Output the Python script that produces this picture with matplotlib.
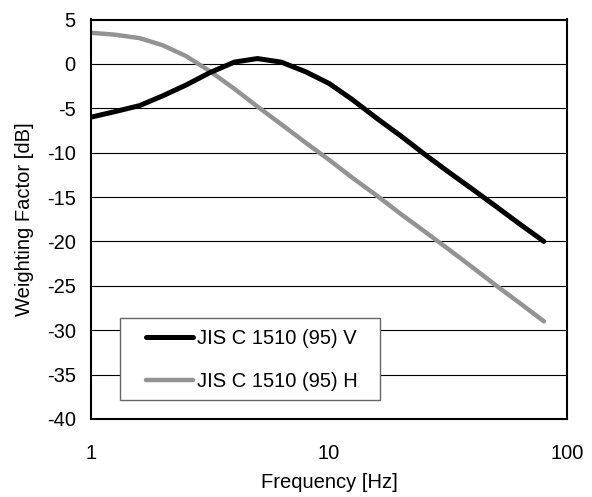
import matplotlib
matplotlib.use("Agg")
import matplotlib.pyplot as plt
from matplotlib.patches import Rectangle
from matplotlib.ticker import FixedLocator, NullLocator, FixedFormatter

plt.rcParams['font.family'] = ['Liberation Sans', 'DejaVu Sans']
plt.rcParams['axes.unicode_minus'] = False

freq = [1, 1.25, 1.6, 2, 2.5, 3.15, 4, 5, 6.3, 8, 10, 12.5, 16, 20, 25, 31.5, 40, 50, 63, 80]
v_db = [-6.0, -5.4, -4.7, -3.6, -2.4, -1.0, 0.2, 0.6, 0.2, -0.9, -2.2, -4.0, -6.2,
        -8.1, -10.1, -12.1, -14.1, -16.0, -18.0, -20.0]
h_db = [3.5, 3.3, 2.9, 2.1, 0.9, -0.8, -2.8, -4.8, -6.8, -8.9, -10.8, -12.8, -14.9,
        -16.9, -18.8, -20.8, -22.9, -24.9, -26.9, -29.0]
labels = ['JIS C 1510 (95) V', 'JIS C 1510 (95) H']
x_ticks = [1, 10, 100]
x_ticklabels = ['1', '10', '100']
y_ticks = [5, 0, -5, -10, -15, -20, -25, -30, -35, -40]

FS = 14.5

fig = plt.figure(figsize=(5.92, 4.97), dpi=100)
ax = fig.add_axes([91/592, 1-419/497, 476/592, 399.5/497])

for y in y_ticks[1:-1]:
    ax.axhline(y, color='black', lw=0.8, zorder=1)

lv, = ax.plot(freq, v_db, color='black', lw=3.6, solid_capstyle='round', zorder=3, label=labels[0])
lh, = ax.plot(freq, h_db, color='#939393', lw=3.2, solid_capstyle='round', zorder=2, label=labels[1])

ax.set_xscale('log')
ax.set_xlim(1, 100)
ax.set_ylim(-40, 5)
ax.xaxis.set_major_locator(FixedLocator(x_ticks))
ax.xaxis.set_major_formatter(FixedFormatter(x_ticklabels))
ax.xaxis.set_minor_locator(NullLocator())
ax.set_yticks(y_ticks)
ax.tick_params(axis='both', length=0, labelsize=FS)
ax.tick_params(axis='x', pad=18)
ax.tick_params(axis='y', pad=11)
for s in ax.spines.values():
    s.set_linewidth(1.5)
    s.set_color('black')

ax.set_xlabel('Frequency [Hz]', fontsize=FS, labelpad=7)
ax.set_ylabel('Weighting Factor [dB]', fontsize=FS, labelpad=9)

# legend box
box = Rectangle(((120-91)/476, (419-400)/399.5), 260/476, 82/399.5,
                transform=ax.transAxes, facecolor='white', edgecolor='#666666',
                lw=1.0, zorder=4)
ax.add_patch(box)
leg = ax.legend(handles=[lv, lh], loc='upper left',
                bbox_to_anchor=((147-91)/476 - 0.01, (419-325)/399.5),
                frameon=False, fontsize=FS, handlelength=2.3, handletextpad=0.2,
                labelspacing=1.2, borderpad=0.2, borderaxespad=0)
leg.set_zorder(5)

fig.savefig('out.png', dpi=100)
